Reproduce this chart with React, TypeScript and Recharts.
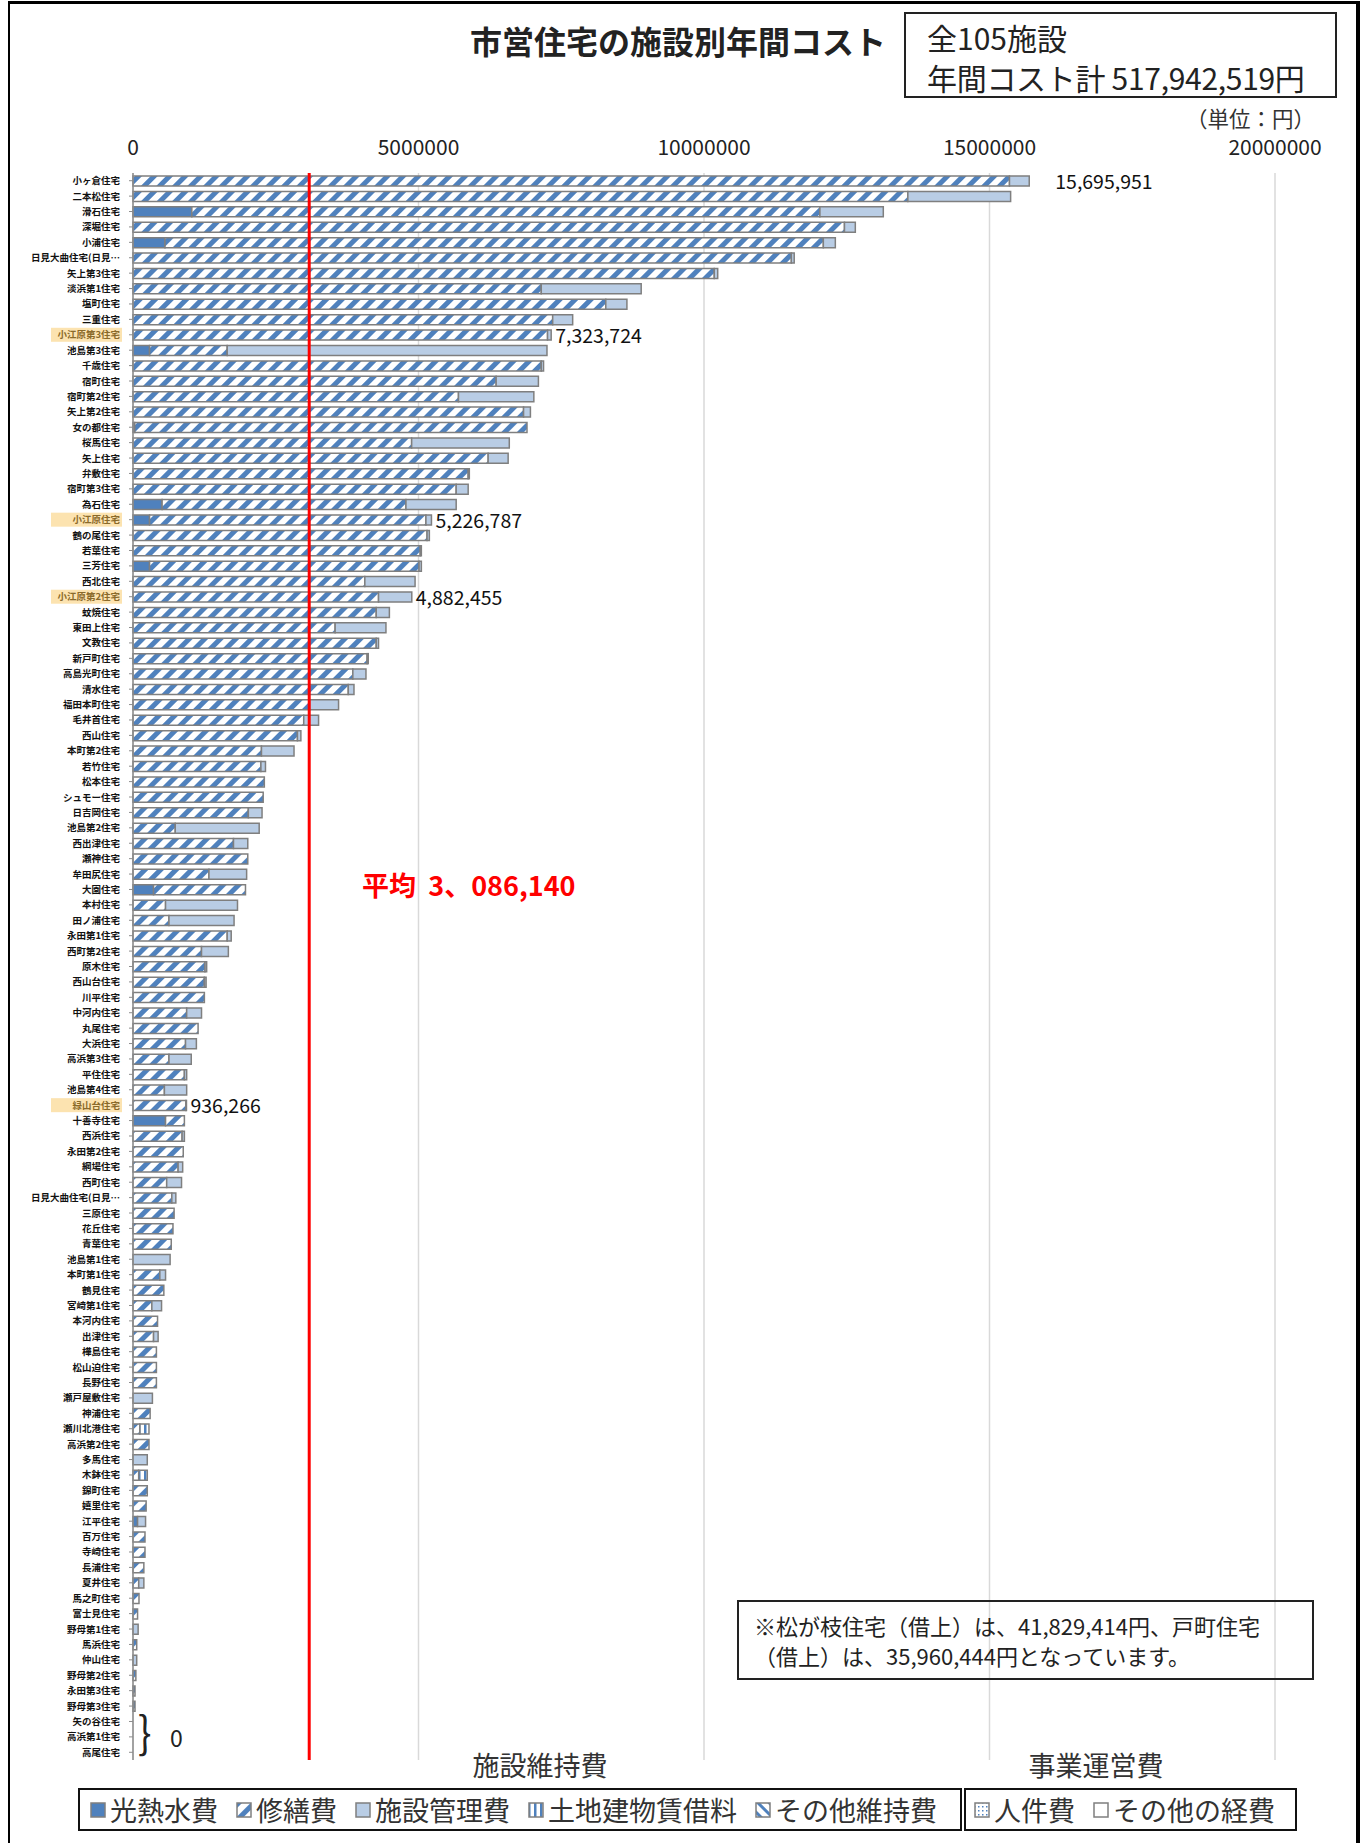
import React from "react";
import { BarChart, Bar, XAxis, YAxis, CartesianGrid, ReferenceLine, LabelList } from "recharts";

const categories = [
  "小ヶ倉住宅", "二本松住宅", "滑石住宅", "深堀住宅", "小浦住宅", "日見大曲住宅(日見…", "矢上第3住宅", "淡浜第1住宅", "塩町住宅", "三重住宅",
  "小江原第3住宅", "池島第3住宅", "千歳住宅", "宿町住宅", "宿町第2住宅", "矢上第2住宅", "女の都住宅", "桜馬住宅", "矢上住宅", "弁敷住宅",
  "宿町第3住宅", "為石住宅", "小江原住宅", "鶴の尾住宅", "若葉住宅", "三芳住宅", "西北住宅", "小江原第2住宅", "蚊焼住宅", "東田上住宅",
  "文教住宅", "新戸町住宅", "高島光町住宅", "清水住宅", "福田本町住宅", "毛井首住宅", "西山住宅", "本町第2住宅", "若竹住宅", "松本住宅",
  "シュモー住宅", "日吉岡住宅", "池島第2住宅", "西出津住宅", "瀬神住宅", "牟田尻住宅", "大園住宅", "本村住宅", "田ノ浦住宅", "永田第1住宅",
  "西町第2住宅", "原木住宅", "西山台住宅", "川平住宅", "中河内住宅", "丸尾住宅", "大浜住宅", "高浜第3住宅", "平住住宅", "池島第4住宅",
  "緑山台住宅", "十善寺住宅", "西浜住宅", "永田第2住宅", "網場住宅", "西町住宅", "日見大曲住宅(日見…", "三原住宅", "花丘住宅", "青葉住宅",
  "池島第1住宅", "本町第1住宅", "鶴見住宅", "宮崎第1住宅", "本河内住宅", "出津住宅", "樺島住宅", "松山迫住宅", "長野住宅", "瀬戸屋敷住宅",
  "神浦住宅", "瀬川北港住宅", "高浜第2住宅", "多馬住宅", "木鉢住宅", "錦町住宅", "嬉里住宅", "江平住宅", "百万住宅", "寺崎住宅",
  "長浦住宅", "夏井住宅", "馬之町住宅", "富士見住宅", "野母第1住宅", "馬浜住宅", "仲山住宅", "野母第2住宅", "永田第3住宅", "野母第3住宅",
  "矢の谷住宅", "高浜第1住宅", "高尾住宅",
];

// 光熱水費
const kounetsu = [
  0, 0, 1030000, 0, 560000, 0, 0, 0, 0, 0,
  0, 290000, 0, 0, 0, 0, 30000, 0, 0, 0,
  0, 510000, 290000, 0, 0, 290000, 0, 0, 0, 0,
  0, 0, 0, 0, 0, 0, 0, 0, 0, 0,
  0, 0, 0, 0, 0, 0, 360000, 0, 0, 0,
  0, 0, 0, 0, 0, 0, 0, 0, 0, 0,
  0, 570000, 0, 0, 0, 0, 0, 0, 0, 0,
  0, 0, 0, 0, 0, 0, 0, 0, 0, 0,
  0, 0, 0, 0, 0, 0, 0, 80000, 0, 0,
  0, 0, 0, 0, 0, 0, 0, 0, 0, 0,
  0, 0, 0,
];

// 修繕費
const shuzen = [
  15350000, 13570000, 11000000, 12460000, 11530000, 11530000, 10180000, 7150000, 8280000, 7350000,
  7260000, 1360000, 7150000, 6360000, 5700000, 6840000, 6870000, 4880000, 6220000, 5870000,
  5660000, 4270000, 4840000, 5150000, 5030000, 4720000, 4060000, 4300000, 4260000, 3540000,
  4260000, 4100000, 3850000, 3770000, 3090000, 2990000, 2880000, 2250000, 2240000, 2300000,
  2280000, 2020000, 740000, 1760000, 2010000, 1330000, 1610000, 570000, 630000, 1650000,
  1200000, 1260000, 1250000, 1250000, 940000, 1140000, 920000, 630000, 900000, 550000,
  926266, 330000, 860000, 880000, 790000, 590000, 680000, 720000, 700000, 670000,
  0, 470000, 540000, 330000, 430000, 360000, 410000, 410000, 410000, 0,
  300000, 120000, 280000, 0, 100000, 250000, 230000, 0, 210000, 210000,
  190000, 100000, 105000, 80000, 0, 65000, 0, 50000, 35000, 35000,
  0, 0, 0,
];

// 施設管理費
const kanri = [
  345951, 1800000, 1110000, 190000, 210000, 50000, 60000, 1750000, 370000, 350000,
  63724, 5600000, 40000, 740000, 1320000, 120000, 0, 1710000, 350000, 20000,
  210000, 880000, 96787, 40000, 20000, 40000, 880000, 582455, 230000, 890000,
  40000, 20000, 230000, 100000, 510000, 260000, 60000, 570000, 80000, 0,
  0, 240000, 1470000, 250000, 0, 660000, 0, 1260000, 1140000, 70000,
  470000, 30000, 30000, 0, 260000, 0, 190000, 390000, 40000, 390000,
  10000, 0, 40000, 0, 80000, 260000, 70000, 0, 0, 0,
  650000, 100000, 0, 170000, 0, 80000, 0, 0, 0, 340000,
  0, 0, 0, 250000, 0, 0, 0, 140000, 0, 0,
  0, 90000, 0, 0, 90000, 0, 65000, 0, 0, 0,
  0, 0, 0,
];

// 土地建物賃借料
const chinshaku = [
  0, 0, 0, 0, 0, 0, 0, 0, 0, 0,
  0, 0, 0, 0, 0, 0, 0, 0, 0, 0,
  0, 0, 0, 0, 0, 0, 0, 0, 0, 0,
  0, 0, 0, 0, 0, 0, 0, 0, 0, 0,
  0, 0, 0, 0, 0, 0, 0, 0, 0, 0,
  0, 0, 0, 0, 0, 0, 0, 0, 0, 0,
  0, 0, 0, 0, 0, 0, 0, 0, 0, 0,
  0, 0, 0, 0, 0, 0, 0, 0, 0, 0,
  0, 160000, 0, 0, 150000, 0, 0, 0, 0, 0,
  0, 0, 0, 0, 0, 0, 0, 0, 0, 0,
  0, 0, 0,
];

const zero = categories.map(() => 0);
const sonotaIji = zero; // その他維持費
const jinken = zero; // 人件費
const sonotaKeihi = zero; // その他の経費

const highlighted = ["小江原第3住宅", "小江原住宅", "小江原第2住宅", "緑山台住宅"];
const annotated = ["小ヶ倉住宅", "小江原第3住宅", "小江原住宅", "小江原第2住宅", "緑山台住宅"];

const xTicks = [0, 5000000, 10000000, 15000000, 20000000];
const average = 3086140;

const data = categories.map((name, i) => ({
  name,
  kounetsu: kounetsu[i],
  shuzen: shuzen[i],
  kanri: kanri[i],
  chinshaku: chinshaku[i],
  sonotaIji: sonotaIji[i],
  jinken: jinken[i],
  sonotaKeihi: sonotaKeihi[i],
  total: kounetsu[i] + shuzen[i] + kanri[i] + chinshaku[i] + sonotaIji[i] + jinken[i] + sonotaKeihi[i],
}));

const FONT = '"Noto Sans CJK JP", "Noto Sans", sans-serif';
const BLUE = "#4F81BD";
const LIGHT = "#B9CDE5";
const EDGE = "#7F7F7F";

function CategoryTick(props: any) {
  const { y, payload } = props;
  const hl = highlighted.includes(payload.value);
  return (
    <g>
      {hl && <rect x={51} y={y - 7} width={71} height={14} fill="#FCE3B0" />}
      <text x={120} y={y} dy={3.5} textAnchor="end" fontSize={9.5} fontWeight={700}
        fill={hl ? "#8A6A2A" : "#111"} fontFamily={FONT}>
        {payload.value}
      </text>
    </g>
  );
}

function NumberTick(props: any) {
  const { x, y, payload } = props;
  return (
    <text x={x} y={y - 10} textAnchor="middle" fontSize={21} fill="#222" fontFamily={FONT}>
      {payload.value}
    </text>
  );
}

// value here is the row name (LabelList dataKey="name")
function TotalLabel(props: any) {
  const { x, y, width, height, value } = props;
  if (!annotated.includes(value)) return null;
  const row = data.find((d) => d.name === value);
  if (!row) return null;
  const gap = value === annotated[0] ? 26 : 4;
  return (
    <text x={x + width + gap} y={y + height / 2 + 8} fontSize={19.5} fill="#111" fontFamily={FONT}>
      {row.total.toLocaleString("en-US")}
    </text>
  );
}

const legendA = [
  { label: "光熱水費", fill: BLUE },
  { label: "修繕費", fill: "url(#hatchR)" },
  { label: "施設管理費", fill: LIGHT },
  { label: "土地建物賃借料", fill: "url(#vstripe)" },
  { label: "その他維持費", fill: "url(#hatchL)" },
];
const legendB = [
  { label: "人件費", fill: "url(#dots)" },
  { label: "その他の経費", fill: "#fff" },
];

function LegendItem({ label, fill }: { label: string; fill: string }) {
  return (
    <span style={{ display: "inline-flex", alignItems: "center", marginRight: 18 }}>
      <svg width={16} height={16} style={{ marginRight: 4 }}>
        <rect x={1} y={1} width={14} height={14} fill={fill} stroke={EDGE} strokeWidth={1.5} />
      </svg>
      {label}
    </span>
  );
}

export default function App() {
  return (
    <div style={{ position: "absolute", left: 0, top: 0, width: 1364, height: 1843, background: "#fff", fontFamily: FONT, overflow: "hidden" }}>
      <div style={{ position: "absolute", left: 8, top: 1, width: 1346, height: 1850, borderTop: "3px solid #000", borderLeft: "2px solid #000", borderRight: "4px solid #000" }} />

      <BarChart width={1364} height={1843} data={data} layout="vertical" barSize={10}
        margin={{ top: 143, right: 89, bottom: 83, left: 0 }}>
        <defs>
          <pattern id="hatchR" patternUnits="userSpaceOnUse" width={11} height={11} patternTransform="rotate(45)">
            <rect width={11} height={11} fill="#fff" />
            <rect width={5} height={11} fill={BLUE} />
          </pattern>
          <pattern id="hatchL" patternUnits="userSpaceOnUse" width={8} height={8} patternTransform="rotate(-45)">
            <rect width={8} height={8} fill="#fff" />
            <rect width={3} height={8} fill={BLUE} />
          </pattern>
          <pattern id="vstripe" patternUnits="userSpaceOnUse" width={6} height={6}>
            <rect width={6} height={6} fill="#fff" />
            <rect width={2.5} height={6} fill={BLUE} />
          </pattern>
          <pattern id="dots" patternUnits="userSpaceOnUse" width={4} height={4}>
            <rect width={4} height={4} fill="#fff" />
            <rect width={1.5} height={1.5} fill={BLUE} />
          </pattern>
        </defs>
        <CartesianGrid horizontal={false} stroke="#D9D9D9" strokeWidth={1.5} />
        <XAxis type="number" orientation="top" domain={[0, 20000000]} ticks={xTicks} height={30}
          axisLine={false} tickLine={false} tick={<NumberTick />} />
        <YAxis type="category" dataKey="name" width={133} interval={0}
          axisLine={{ stroke: "#8C8C8C", strokeWidth: 1.5 }} tickLine={{ stroke: "#8C8C8C" }} tickSize={4}
          tick={<CategoryTick />} />
        <Bar dataKey="kounetsu" stackId="a" fill={BLUE} stroke={EDGE} strokeWidth={1.5} isAnimationActive={false} />
        <Bar dataKey="shuzen" stackId="a" fill="url(#hatchR)" stroke={EDGE} strokeWidth={1.5} isAnimationActive={false} />
        <Bar dataKey="kanri" stackId="a" fill={LIGHT} stroke={EDGE} strokeWidth={1.5} isAnimationActive={false}>
          <LabelList dataKey="name" content={<TotalLabel />} />
        </Bar>
        <Bar dataKey="chinshaku" stackId="a" fill="url(#vstripe)" stroke={EDGE} strokeWidth={1.5} isAnimationActive={false} />
        <Bar dataKey="sonotaIji" stackId="a" fill="url(#hatchL)" stroke={EDGE} strokeWidth={1.5} isAnimationActive={false} />
        <Bar dataKey="jinken" stackId="a" fill="url(#dots)" stroke={EDGE} strokeWidth={1.5} isAnimationActive={false} />
        <Bar dataKey="sonotaKeihi" stackId="a" fill="#fff" stroke={EDGE} strokeWidth={1.5} isAnimationActive={false} />
        <ReferenceLine x={average} stroke="#FF0000" strokeWidth={3} />
      </BarChart>

      <div style={{ position: "absolute", right: 478, top: 20, fontSize: 32, lineHeight: "40px", fontWeight: 700, color: "#222", whiteSpace: "nowrap" }}>
        市営住宅の施設別年間コスト
      </div>
      <div style={{ position: "absolute", left: 904, top: 12, width: 433, height: 86, border: "2px solid #222", boxSizing: "border-box" }}>
        <div style={{ position: "absolute", left: 21, top: 7, fontSize: 30, lineHeight: "32px", color: "#222", whiteSpace: "nowrap" }}>全105施設</div>
        <div style={{ position: "absolute", left: 21, top: 47, fontSize: 30, lineHeight: "32px", color: "#222", whiteSpace: "nowrap", letterSpacing: -0.3 }}>年間コスト計 517,942,519円</div>
      </div>
      <div style={{ position: "absolute", left: 1186, top: 107, fontSize: 21.5, lineHeight: "22px", color: "#333", whiteSpace: "nowrap" }}>（単位：円）</div>

      <div style={{ position: "absolute", left: 362, top: 865, fontSize: 27, fontWeight: 700, color: "#FF0000", whiteSpace: "nowrap" }}>
        平均&nbsp;&nbsp;3、086,140
      </div>

      <div style={{ position: "absolute", left: 138, top: 1706, fontSize: 40, color: "#222", lineHeight: "48px", transform: "scaleY(1.1)" }}>{"}"}</div>
      <div style={{ position: "absolute", left: 170, top: 1720, fontSize: 23, color: "#222" }}>0</div>

      <div style={{ position: "absolute", left: 737, top: 1600, width: 577, height: 80, border: "2px solid #222", boxSizing: "border-box", fontSize: 22, color: "#222", padding: "8px 0 0 15px", lineHeight: "30px", whiteSpace: "nowrap" }}>
        ※松が枝住宅（借上）は、41,829,414円、戸町住宅<br />（借上）は、35,960,444円となっています。
      </div>

      <div style={{ position: "absolute", left: 440, top: 1745, width: 200, textAlign: "center", fontSize: 27, color: "#333" }}>施設維持費</div>
      <div style={{ position: "absolute", left: 996, top: 1745, width: 200, textAlign: "center", fontSize: 27, color: "#333" }}>事業運営費</div>

      <div style={{ position: "absolute", left: 78, top: 1788, width: 884, height: 43, border: "2px solid #111", boxSizing: "border-box", display: "flex", alignItems: "center", paddingLeft: 10, fontSize: 27, color: "#333", whiteSpace: "nowrap" }}>
        {legendA.map((l) => <LegendItem key={l.label} {...l} />)}
      </div>
      <div style={{ position: "absolute", left: 964, top: 1788, width: 333, height: 43, border: "2px solid #111", boxSizing: "border-box", display: "flex", alignItems: "center", paddingLeft: 8, fontSize: 27, color: "#333", whiteSpace: "nowrap" }}>
        {legendB.map((l) => <LegendItem key={l.label} {...l} />)}
      </div>
    </div>
  );
}
